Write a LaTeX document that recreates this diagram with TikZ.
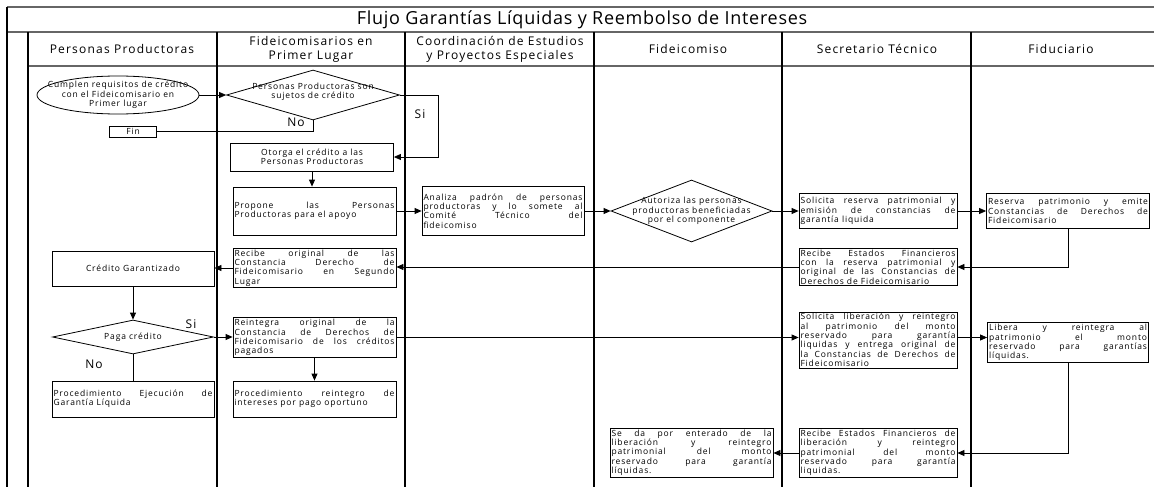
\documentclass[tikz,border=0pt]{standalone}
\usepackage{fontspec}
\setmainfont{Open Sans}
\newfontfamily\bodyfont[LetterSpace=10]{Open Sans}
\newfontfamily\headfont[LetterSpace=10]{Open Sans}
\newfontfamily\titlefont[LetterSpace=4]{Open Sans}
\usetikzlibrary{arrows.meta,shapes.geometric}
\begin{document}
\begin{tikzpicture}[x=1pt,y=-1pt,
  lane/.style={line width=1.3pt,black},
  rowline/.style={line width=1.4pt,black!60},
  boxtxt/.style={font=\bodyfont\fontsize{8.5}{9.3}\selectfont},
  box/.style={draw,line width=0.8pt,boxtxt,inner sep=1.5pt,align=justify},
  cbox/.style={draw,line width=0.8pt,boxtxt,inner sep=1.5pt,align=center},
  dia/.style={diamond,draw,line width=0.8pt,inner sep=0pt},
  dtxt/.style={boxtxt,align=center,inner sep=0pt},
  head/.style={font=\headfont\fontsize{12}{14}\selectfont,align=center,inner sep=0pt},
  lbl/.style={font=\headfont\fontsize{12}{14}\selectfont,inner sep=0pt},
  conn/.style={line width=0.8pt,black},
  arr/.style={conn,-{Triangle[length=7pt,width=6pt]}}
]
\useasboundingbox (0,0) rectangle (1154,487);
% frame
\draw[rowline] (7,7) -- (1154,7);
\draw[rowline] (7,32) -- (1154,32);
\draw[rowline] (28,66) -- (1154,66);
\draw[lane] (7,7) -- (7,487);
\foreach \x in {28,217,405,594,782,971} \draw[lane] (\x,32) -- (\x,487);
\node[font=\titlefont\fontsize{18}{20}\selectfont,inner sep=0pt] (title) at (582,19.5) {Flujo Garantías Líquidas y Reembolso de Intereses};
% headers
\node[head] (h1) at (122,49) {Personas Productoras};
\node[head] (h2) at (311,49) {Fideicomisarios en\\Primer Lugar};
\node[head] (h3) at (500,49) {Coordinación de Estudios\\y Proyectos Especiales};
\node[head] (h4) at (688,49) {Fideicomiso};
\node[head] (h5) at (877,49) {Secretario Técnico};
\node[head] (h6) at (1061,49) {Fiduciario};
% nodes
\node[ellipse,draw,line width=0.8pt,minimum width=162pt,minimum height=38pt,inner sep=0pt] (e1) at (118,95) {};
\node[dtxt] (e1t) at (e1) {Cumplen requisitos de crédito\\con el Fideicomisario en\\Primer lugar};
\node[dia,minimum width=173pt,minimum height=50pt] (d1) at (313,95) {};
\node[dtxt] (d1t) at (313,92) {Personas Productoras son\\sujetos de crédito};
\node[cbox,minimum width=47pt,minimum height=11pt,inner sep=0pt] (fin) at (133,131.5) {Fin};
\node[cbox,minimum width=163pt,minimum height=28pt] (otorga) at (312,157) {Otorga el crédito a las\\Personas Productoras};
\node[box,text width=160pt,minimum height=48pt] (propone) at (314.5,211) {Propone las Personas\linebreak Productoras para el apoyo};
\node[box,text width=159pt,minimum height=49pt] (analiza) at (503,211) {Analiza padrón de personas\linebreak productoras y lo somete al\linebreak Comité Técnico del\linebreak fideicomiso};
\node[dia,minimum width=161pt,minimum height=62pt] (d2) at (691.5,211) {};
\node[dtxt] (d2t) at (691.5,211) {Autoriza las personas\\productoras beneficiadas\\por el componente};
\node[box,text width=155pt,minimum height=35pt] (solres) at (878,211) {Solicita reserva patrimonial y\linebreak emisión de constancias de\linebreak garantía liquida};
\node[box,text width=160pt,minimum height=35pt] (reserva) at (1068,211) {Reserva patrimonio y emite\linebreak Constancias de Derechos de\linebreak Fideicomisario};
\node[box,text width=155pt,minimum height=36pt] (recef1) at (878,267) {Recibe Estados Financieros\linebreak con la reserva patrimonial y\linebreak original de las Constancias de\linebreak Derechos de Fideicomisario};
\node[box,text width=160pt,minimum height=37pt] (recorig) at (314.5,268) {Recibe original de las\linebreak Constancia Derecho de\linebreak Fideicomisario en Segundo\linebreak Lugar};
\node[cbox,minimum width=162pt,minimum height=35pt] (credgar) at (133,268.5) {Crédito Garantizado};
\node[dia,minimum width=161pt,minimum height=34pt] (paga) at (133,337) {};
\node[dtxt] (pagat) at (133,337) {Paga crédito};
\node[box,text width=160pt,minimum height=33pt] (reint) at (314.5,337.5) {Reintegra original de la\linebreak Constancia de Derechos de\linebreak Fideicomisario de los créditos\linebreak pagados};
\node[box,text width=155pt,minimum height=56pt] (solib) at (878,340) {Solicita liberación y reintegro\linebreak al patrimonio del monto\linebreak reservado para garantía\linebreak liquidas y entrega original de\linebreak la Constancias de Derechos de\linebreak Fideicomisario};
\node[box,text width=158pt,minimum height=39pt] (libera) at (1068,342.5) {Libera y reintegra al\linebreak patrimonio el monto\linebreak reservado para garantías\linebreak líquidas.};
\node[box,text width=155pt,minimum height=48pt] (recef2) at (878,453) {Recibe Estados Financieros de\linebreak liberación y reintegro\linebreak patrimonial del monto\linebreak reservado para garantía\linebreak liquidas.};
\node[box,text width=160pt,minimum height=49pt] (seda) at (691.5,452.5) {Se da por enterado de la\linebreak liberación y reintegro\linebreak patrimonial del monto\linebreak reservado para garantía\linebreak líquidas.};
\node[box,text width=159pt,minimum height=36pt] (procej) at (133,399) {Procedimiento Ejecución de\linebreak Garantía Líquida};
\node[box,text width=160pt,minimum height=36pt] (procre) at (314.5,399) {Procedimiento reintegro de\linebreak intereses por pago oportuno};
% labels
\node[lbl] (no1) at (296,122.5) {No};
\node[lbl] (si1) at (420,114) {Si};
\node[lbl] (si2) at (191,324) {Si};
\node[lbl] (no2) at (94,364) {No};
\coordinate (siR) at (438,95);
% connectors
\draw[arr] (e1.east) -- (d1.west);
\draw[conn] (d1.south) |- (fin.east);
\draw[arr] (d1.east) -- (siR) |- (otorga.east);
\draw[arr] (otorga.south) -- (otorga.south |- propone.north);
\draw[arr] (propone.east) -- (analiza.west);
\draw[arr] (analiza.east) -- (d2.west);
\draw[arr] (d2.east) -- (solres.west);
\draw[arr] (solres.east) -- (reserva.west);
\draw[arr] (reserva.south) |- (recef1.east);
\draw[arr] (recef1.west) -- (recef1.west -| recorig.east);
\draw[arr] (recorig.west) -- (recorig.west -| credgar.east);
\draw[arr] (credgar.south) -- (paga.north);
\draw[arr] (paga.east) -- (paga.east -| reint.west);
\draw[arr] (reint.east) -- (reint.east -| solib.west);
\draw[arr] (reint.east -| solib.east) -- (reint.east -| libera.west);
\draw[arr] (libera.south) |- (recef2.east);
\draw[arr] (recef2.west) -- (recef2.west -| seda.east);
\draw[conn] (paga.south) -- (procej.north);
\draw[arr] (reint.south) -- (procre.north);
\end{tikzpicture}
\end{document}
